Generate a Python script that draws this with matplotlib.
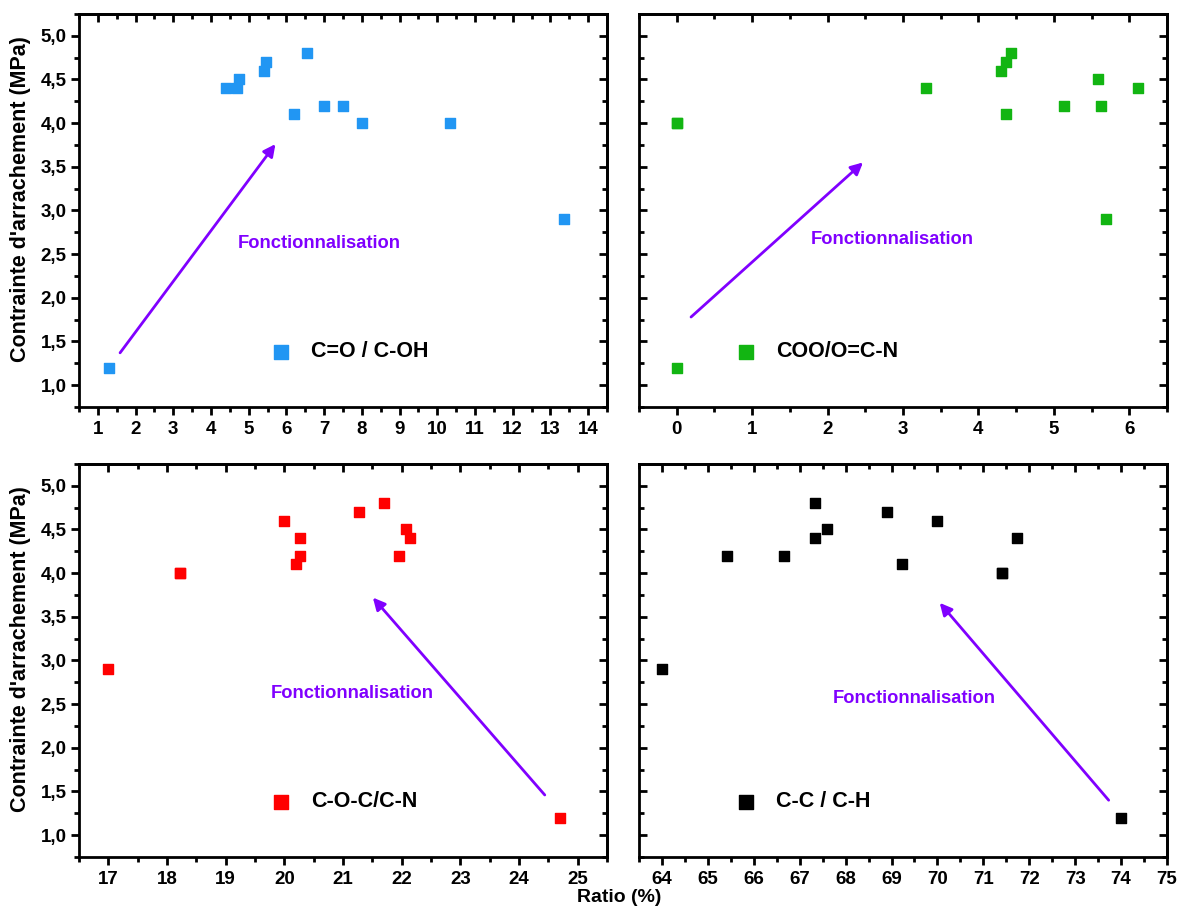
import matplotlib
matplotlib.use("Agg")
import matplotlib.pyplot as plt
from matplotlib.ticker import MultipleLocator

plt.rcParams['font.family'] = ['Liberation Sans', 'DejaVu Sans']
plt.rcParams['font.weight'] = 'bold'

# adhesion stress (MPa), same samples in every panel
y_co = [1.2, 4.4, 4.4, 4.5, 4.6, 4.7, 4.1, 4.8, 4.2, 4.2, 4.0, 4.0, 2.9]
x_co = [1.3, 4.4, 4.7, 4.75, 5.4, 5.45, 6.2, 6.55, 7.0, 7.5, 8.0, 10.35, 13.35]

x_coo = [0.0, 0.0, 3.3, 4.3, 4.36, 4.43, 4.36, 5.14, 5.58, 5.62, 5.69, 6.12, 0.0]
y_coo = [4.0, 1.2, 4.4, 4.6, 4.7, 4.8, 4.1, 4.2, 4.5, 4.2, 2.9, 4.4, 4.0]

x_coc = [17.0, 18.22, 18.22, 20.0, 20.2, 20.26, 20.26, 21.28, 21.7, 21.96, 22.07, 22.14, 24.7]
y_coc = [2.9, 4.0, 4.0, 4.6, 4.1, 4.2, 4.4, 4.7, 4.8, 4.2, 4.5, 4.4, 1.2]

x_cc = [64.0, 65.42, 66.66, 67.34, 67.34, 67.6, 68.91, 69.22, 70.0, 71.4, 71.4, 71.73, 74.0]
y_cc = [2.9, 4.2, 4.2, 4.8, 4.4, 4.5, 4.7, 4.1, 4.6, 4.0, 4.0, 4.4, 1.2]

purple = '#8000FF'

panels = [
    # x, y, color, label, xlim, legend anchor, arrow start, arrow end, text pos
    (x_co, y_co, '#2196F3', 'C=O / C-OH', (0.5, 14.5), (0.334, 0.14),
     (1.59, 1.37), (5.71, 3.76), (6.86, 2.62)),
    (x_coo, y_coo, '#12B512', 'COO/O=C-N', (-0.5, 6.5), (0.154, 0.14),
     (0.19, 1.78), (2.47, 3.55), (2.86, 2.67)),
    (x_coc, y_coc, '#FF0000', 'C-O-C/C-N', (16.5, 25.5), (0.334, 0.14),
     (24.44, 1.46), (21.51, 3.72), (21.15, 2.62)),
    (x_cc, y_cc, '#000000', 'C-C / C-H', (63.5, 75), (0.154, 0.14),
     (73.73, 1.40), (70.05, 3.66), (69.5, 2.57)),
]

fig = plt.figure(figsize=(11.82, 9.06), dpi=100)
boxes = [
    [0.0668, 0.5508, 0.4467, 0.4338],
    [0.5406, 0.5508, 0.4467, 0.4338],
    [0.0668, 0.0541, 0.4467, 0.4338],
    [0.5406, 0.0541, 0.4467, 0.4338],
]

for i, (box, p) in enumerate(zip(boxes, panels)):
    xs, ys, col, lab, xlim, leg_pos, a0, a1, tpos = p
    ax = fig.add_axes(box)
    ax.scatter(xs, ys, marker='s', s=60, color=col, label=lab, zorder=3)
    ax.set_xlim(*xlim)
    ax.set_ylim(0.75, 5.25)

    ax.xaxis.set_major_locator(MultipleLocator(1))
    ax.xaxis.set_minor_locator(MultipleLocator(0.5))
    ax.yaxis.set_major_locator(MultipleLocator(0.5))
    ax.yaxis.set_minor_locator(MultipleLocator(0.25))
    ax.yaxis.set_major_formatter(plt.FuncFormatter(lambda v, _: f'{v:.1f}'.replace('.', ',')))

    for s in ax.spines.values():
        s.set_linewidth(2.0)

    left_col = i % 2 == 0
    ax.tick_params(axis='x', which='major', direction='out', length=6, width=2,
                   labelsize=13.5, pad=4, top=False)
    ax.tick_params(axis='x', which='minor', direction='out', length=3.5, width=2, top=False)
    ax.tick_params(axis='y', which='major', direction='out' if left_col else 'in',
                   length=6, width=2, labelsize=13.5, pad=3, right=False, labelleft=left_col)
    ax.tick_params(axis='y', which='minor', direction='out' if left_col else 'in',
                   length=3.5, width=2, right=False)
    for t in ax.get_xticklabels() + ax.get_yticklabels():
        t.set_fontweight('bold')

    # inward ticks on top and right
    top = ax.secondary_xaxis('top')
    top.xaxis.set_major_locator(MultipleLocator(1))
    top.xaxis.set_minor_locator(MultipleLocator(0.5))
    top.tick_params(which='major', direction='in', length=6, width=2, labeltop=False)
    top.tick_params(which='minor', direction='in', length=3.5, width=2)
    top.spines['top'].set_linewidth(2.0)
    right = ax.secondary_yaxis('right')
    right.yaxis.set_major_locator(MultipleLocator(0.5))
    right.yaxis.set_minor_locator(MultipleLocator(0.25))
    right.tick_params(which='major', direction='in', length=6, width=2, labelright=False)
    right.tick_params(which='minor', direction='in', length=3.5, width=2)
    right.spines['right'].set_linewidth(2.0)

    if left_col:
        ax.set_ylabel("Contrainte d'arrachement (MPa)", fontsize=15.5, fontweight='bold')
        ax.yaxis.set_label_coords(-0.09, 0.53)

    ax.annotate('', xy=a1, xytext=a0,
                arrowprops=dict(arrowstyle='-|>', color=purple, lw=2,
                                mutation_scale=18, shrinkA=0, shrinkB=0))
    ax.text(tpos[0], tpos[1], 'Fonctionnalisation', color=purple, fontsize=13.2,
            fontweight='bold', ha='center', va='center')

    leg = ax.legend(loc='center left', bbox_to_anchor=leg_pos, frameon=False,
                    markerscale=1.3, handlelength=1.0, handletextpad=0.9,
                    prop={'size': 15.5, 'weight': 'bold'}, borderpad=0.2)

fig.text(0.524, 0.0, 'Ratio (%)', fontsize=14, fontweight='bold', ha='center', va='bottom')

fig.savefig('out.png', dpi=100)
